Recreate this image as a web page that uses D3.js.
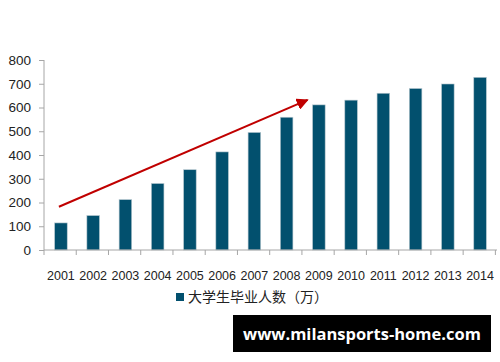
<!DOCTYPE html>
<html>
<head>
<meta charset="utf-8">
<script src="https://cdn.jsdelivr.net/npm/d3@7"></script>
<style>
  body { margin: 0; background: #fff; }
  .axis path, .axis line { stroke: #a6a6a6; }
  .axis text { font-family: "Liberation Sans", Arial, sans-serif; font-size: 12.5px; fill: #222; }
  .yaxis text { font-size: 13.5px; }
</style>
</head>
<body>
<div id="graph"></div>
<script>
var years = ["2001","2002","2003","2004","2005","2006","2007","2008","2009","2010","2011","2012","2013","2014"];
var graduates = [114, 145, 212, 280, 338, 413, 495, 559, 611, 631, 660, 680, 699, 727];
var yTicks = [0, 100, 200, 300, 400, 500, 600, 700, 800];
var seriesName = "大学生毕业人数（万）";
var trendFrom = {year: "2001", value: 182};
var trendTo = {year: "2009", value: 632};

var margin = {top: 60, right: 3, bottom: 112, left: 44},
    width = 500 - margin.left - margin.right,
    height = 362 - margin.top - margin.bottom;

var x = d3.scaleBand()
    .domain(years)
    .range([0, width])
    .paddingInner(0.61)
    .paddingOuter(0.33);
var y = d3.scaleLinear()
    .domain([0, 800])
    .range([height, 0]);

var svg = d3.select("#graph").append("svg")
    .attr("width", 500)
    .attr("height", 362);
var g = svg.append("g")
    .attr("transform", "translate(" + margin.left + "," + margin.top + ")");

// y axis
g.append("g")
    .attr("class", "axis yaxis")
    .call(d3.axisLeft(y).tickValues(yTicks).tickSize(5).tickPadding(8))
    .call(function(s) { s.select(".domain").attr("d", "M0," + height + "V0"); });

// bars
g.selectAll(".bar")
    .data(graduates)
  .enter().append("rect")
    .attr("class", "bar")
    .attr("x", function(d, i) { return x(years[i]); })
    .attr("width", x.bandwidth())
    .attr("y", function(d) { return y(d); })
    .attr("height", function(d) { return height - y(d); })
    .style("fill", "#02506e")
    .style("stroke", "#b8c8d0")
    .style("stroke-width", 0.6);

// x axis with ticks between categories
var step = x.step();
var xAxis = g.append("g")
    .attr("class", "axis")
    .attr("transform", "translate(0," + height + ")");
xAxis.append("line")
    .attr("x1", 0).attr("x2", width)
    .style("stroke", "#a6a6a6");
xAxis.selectAll(".tk")
    .data(d3.range(years.length + 1))
  .enter().append("line")
    .attr("x1", function(i) { return i * step; })
    .attr("x2", function(i) { return i * step; })
    .attr("y1", 0).attr("y2", 5)
    .style("stroke", "#a6a6a6");
xAxis.selectAll(".lbl")
    .data(years)
  .enter().append("text")
    .attr("x", function(d) { return x(d) + x.bandwidth() / 2; })
    .attr("y", 30)
    .style("text-anchor", "middle")
    .text(function(d) { return d; });

// trend arrow
svg.append("defs").append("marker")
    .attr("id", "head")
    .attr("viewBox", "0 0 10 10")
    .attr("refX", 9).attr("refY", 5)
    .attr("markerWidth", 6).attr("markerHeight", 6)
    .attr("markerUnits", "strokeWidth")
    .attr("orient", "auto")
  .append("path")
    .attr("d", "M0,0L10,5L0,10z")
    .style("fill", "#c00000");
g.append("line")
    .attr("x1", x(trendFrom.year) + x.bandwidth() / 2 - 2)
    .attr("y1", y(trendFrom.value))
    .attr("x2", x(trendTo.year) - 5)
    .attr("y2", y(trendTo.value))
    .style("stroke", "#c00000")
    .style("stroke-width", 2)
    .attr("marker-end", "url(#head)");

// legend
var legend = svg.append("g")
    .attr("transform", "translate(176,293)");
legend.append("rect")
    .attr("width", 8).attr("height", 8)
    .style("fill", "#02506e");
legend.append("text")
    .attr("x", 12)
    .attr("y", 9)
    .style("font-family", "'Noto Sans CJK SC', sans-serif")
    .style("font-size", "14px")
    .style("fill", "#222")
    .text(seriesName);

// watermark
svg.append("rect")
    .attr("x", 233).attr("y", 315)
    .attr("width", 258).attr("height", 37)
    .style("fill", "#000");
svg.append("text")
    .attr("x", 362).attr("y", 340)
    .style("text-anchor", "middle")
    .style("font-family", "'Open Sans', 'DejaVu Sans', sans-serif")
    .style("font-weight", "bold")
    .style("font-size", "16.5px")
    .style("fill", "#fff")
    .text("www.milansports-home.com");
</script>
</body>
</html>
